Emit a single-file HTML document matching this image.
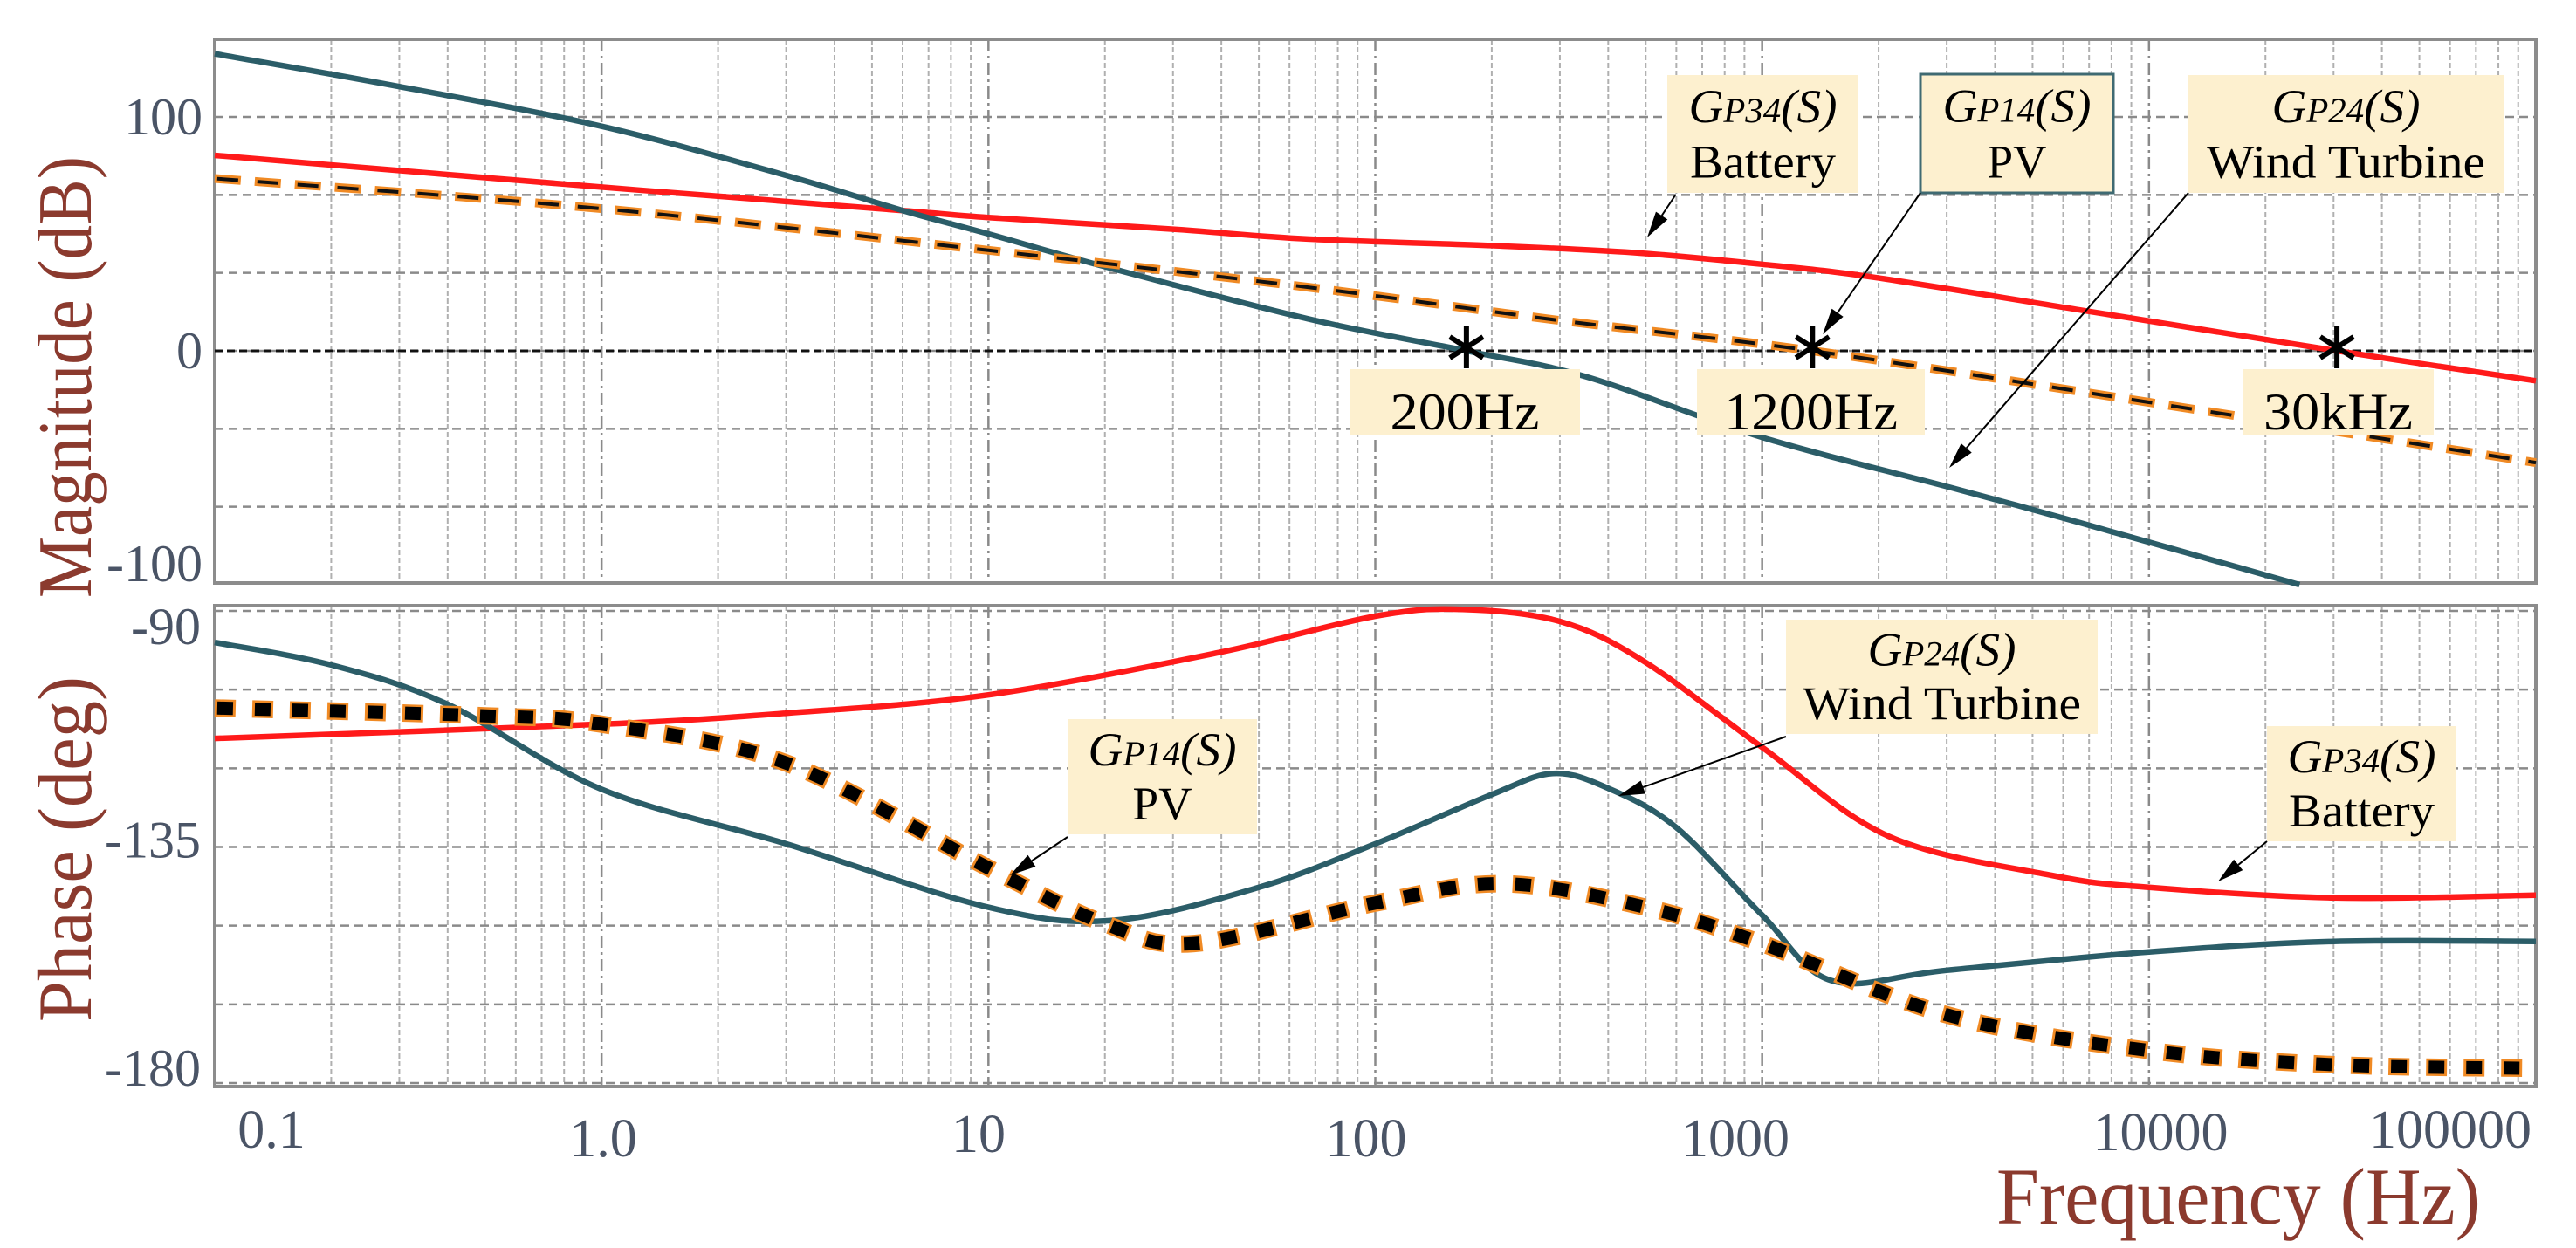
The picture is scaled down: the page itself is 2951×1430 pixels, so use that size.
<!DOCTYPE html>
<html><head><meta charset="utf-8"><style>
html,body{margin:0;padding:0;background:#fff;}
svg{display:block;}
text{font-family:"Liberation Serif",serif;}
</style></head><body>
<svg id="chart" xmlns="http://www.w3.org/2000/svg" width="2951" height="1430" viewBox="0 0 2951 1430">
<g id="grid"></g>
<g id="series"></g>
<g id="annot"></g>
<g id="labels"></g>
</svg>
<script>
// ---- data ----
const xTickValues = [0.1, 1, 10, 100, 1000, 10000, 100000];
const xTickLabels = ["0.1", "1.0", "10", "100", "1000", "10000", "100000"];
const magTickValues = [100, 0, -100];
const phaseTickValues = [-90, -135, -180];

const windMagFreq = [0.1, 0.3, 1, 3, 6, 10, 20, 67, 172, 350, 1000, 3162, 6800, 24500];
const windMagDb   = [127, 113, 96, 75, 60, 50, 36, 13.7, 0, -11, -37, -59, -74, -100];
const batMagFreq  = [0.1, 1, 6, 10, 30, 67, 200, 463, 1000, 1950, 6800, 30600, 100000];
const batMagDb    = [83.6, 70, 60, 57, 52, 47.8, 45, 42, 37, 31.4, 17.2, 0, -12.8];
const pvMagFreq   = [0.1, 1, 10, 67, 300, 1349, 10000, 100000];
const pvMagDb     = [73.7, 60.8, 43, 27.2, 13, 0, -22, -47.8];

const batPhFreq = [0.1, 1, 3, 10, 39, 100, 168, 300, 492, 1000, 2130, 5600, 10000, 30000, 100000];
const batPhDeg  = [-114.3, -111.6, -109.5, -106, -98, -91, -89.7, -92, -99.5, -116, -133, -140.4, -142.7, -144.7, -144.2];
const windPhFreq = [0.1, 0.2, 0.4, 1, 3, 10, 21, 50, 100, 200, 288, 400, 600, 1000, 1515, 3000, 10000, 30000, 100000];
const windPhDeg  = [-96, -100.3, -107.8, -124, -134.4, -146.5, -149, -142.7, -134.4, -125, -121, -123.8, -131.3, -148, -160.5, -158.5, -155, -153, -153];
const pvPhFreq = [0.1, 0.5, 1, 3, 10, 20, 34, 100, 214, 500, 1000, 3000, 10000, 30000, 100000];
const pvPhDeg  = [-108.5, -110, -111.6, -119, -139, -149.6, -153.4, -145.7, -142, -146.5, -153.4, -167, -173.8, -176.5, -177.2];

const crossFreq = [172, 1349, 30600];
const crossLabels = ["200Hz", "1200Hz", "30kHz"];

// ---- axes ----
const X0 = 246, X1 = 2905, DEC = (X1 - X0) / 6;
function xs(f){ return X0 + DEC * Math.log10(f / 0.1); }
const MT = 45, MB = 668;
function ym(db){ return 402 - db * 2.68; }
const PT = 694, PB = 1245;
function yp(d){ return 700 + (-90 - d) * 6.011; }

const NS = "http://www.w3.org/2000/svg";
function mk(tag, attrs, parent){
  const e = document.createElementNS(NS, tag);
  for (const k in attrs) e.setAttribute(k, attrs[k]);
  parent.appendChild(e);
  return e;
}
const grid = document.getElementById('grid');
const series = document.getElementById('series');
const annot = document.getElementById('annot');
const labels = document.getElementById('labels');

function drawPanel(top, bottom, hLines, name){
  for (let d = 0; d < 6; d++){
    for (let m = 1; m <= 9; m++){
      const x = X0 + DEC * (d + Math.log10(m));
      if (m === 1 && d === 0) continue;
      const l = mk('line', {x1:x, x2:x, y1:top, y2:bottom, stroke: m===1 ? '#8a8a8a' : '#b0b0b0', 'stroke-width': m===1 ? 2.5 : 2, 'stroke-dasharray': m===1 ? '14 5 3 5' : '6 3'}, grid);
      
      
    }
  }
  hLines.forEach(y => {
    const l = mk('line', {x1:X0, x2:X1, y1:y, y2:y, stroke:'#8a8a8a', 'stroke-width':2.5, 'stroke-dasharray':'10 6'}, grid);
    
    
  });
  const r = mk('rect', {x:X0, y:top, width:X1-X0, height:bottom-top, fill:'none', stroke:'#8c8c8c', 'stroke-width':4}, grid);
  
  
}
const magH = [];
for (let v = 100; v > -100; v -= 100/3) magH.push(ym(v));
drawPanel(MT, MB, magH, 'magnitude-panel');
const phH = [];
for (let v = -90; v >= -180; v -= 15) phH.push(yp(v));
drawPanel(PT, PB, phH, 'phase-panel');
const zl = mk('line', {x1:X0, x2:X1, y1:ym(0), y2:ym(0), stroke:'#111', 'stroke-width':3, 'stroke-dasharray':'9 5'}, grid);



function pathFrom(fr, vals, yf){
  const p = fr.map((f,i)=>[xs(f), yf(vals[i])]);
  let d = 'M' + p[0][0].toFixed(1) + ' ' + p[0][1].toFixed(1);
  for (let i = 0; i < p.length - 1; i++){
    const p0 = p[Math.max(0,i-1)], p1 = p[i], p2 = p[i+1], p3 = p[Math.min(p.length-1,i+2)];
    const c1 = [p1[0] + (p2[0]-p0[0])/6, p1[1] + (p2[1]-p0[1])/6];
    const c2 = [p2[0] - (p3[0]-p1[0])/6, p2[1] - (p3[1]-p1[1])/6];
    d += ' C' + c1[0].toFixed(1) + ' ' + c1[1].toFixed(1) + ' ' + c2[0].toFixed(1) + ' ' + c2[1].toFixed(1) + ' ' + p2[0].toFixed(1) + ' ' + p2[1].toFixed(1);
  }
  return d;
}
let e;
// magnitude
e = mk('path', {d:pathFrom(batMagFreq, batMagDb, ym), fill:'none', stroke:'#ff1a1a', 'stroke-width':6.5}, series);


e = mk('path', {d:pathFrom(windMagFreq, windMagDb, ym), fill:'none', stroke:'#2b5d68', 'stroke-width':6.5}, series);


e = mk('path', {d:pathFrom(pvMagFreq, pvMagDb, ym), fill:'none', stroke:'#f08a24', 'stroke-width':10, 'stroke-dasharray':'30 16'}, series);


e = mk('path', {d:pathFrom(pvMagFreq, pvMagDb, ym), fill:'none', stroke:'#111', 'stroke-width':4, 'stroke-dasharray':'24 22', 'stroke-dashoffset':'-3'}, series);


// phase
e = mk('path', {d:pathFrom(batPhFreq, batPhDeg, yp), fill:'none', stroke:'#ff1a1a', 'stroke-width':6.5}, series);


e = mk('path', {d:pathFrom(windPhFreq, windPhDeg, yp), fill:'none', stroke:'#2b5d68', 'stroke-width':6.5}, series);


e = mk('path', {d:pathFrom(pvPhFreq, pvPhDeg, yp), fill:'none', stroke:'#f08a24', 'stroke-width':20, 'stroke-dasharray':'24 19'}, series);


e = mk('path', {d:pathFrom(pvPhFreq, pvPhDeg, yp), fill:'none', stroke:'#000', 'stroke-width':15, 'stroke-dasharray':'18 25', 'stroke-dashoffset':'-3'}, series);



// tick labels
const xLabY = [1295, 1305, 1300, 1305, 1305, 1298, 1295];
const xLabX = [311, 691, 1121, 1565, 1988, 2475, 2807];
xTickLabels.forEach((t,i)=>{
  const tx = mk('text', {x:xLabX[i], y:xLabY[i]+20, 'font-size':62, fill:'#4a5466', 'text-anchor':'middle'}, labels);
  tx.textContent = t;
  
  
});
magTickValues.forEach(v=>{
  const tx = mk('text', {x:232, y:ym(v)+20 - (v===-100?24:0), 'font-size':60, fill:'#4a5466', 'text-anchor':'end'}, labels);
  tx.textContent = String(v);
  
  
});
phaseTickValues.forEach((v,i)=>{
  const off = [18, -8, -17][i];
  const tx = mk('text', {x:230, y:yp(v)+20+off, 'font-size':60, fill:'#4a5466', 'text-anchor':'end'}, labels);
  tx.textContent = String(v);
  
  
});

// asterisks + frequency labels
const boxX = [1546, 1944, 2569], boxW = [264, 261, 219];
crossFreq.forEach((f,i)=>{
  const cx = xs(f), cy = ym(0) - 4;
  const g = mk('g', {}, annot);
  
  
  for (let a = 0; a < 3; a++){
    const ang = Math.PI/2 + a*Math.PI/3;
    mk('line', {x1:cx - 22*Math.cos(ang), y1:cy - 24*Math.sin(ang), x2:cx + 22*Math.cos(ang), y2:cy + 24*Math.sin(ang), stroke:'#000', 'stroke-width':6}, g);
  }
  const b = mk('rect', {x:boxX[i], y:423, width:boxW[i], height:76, fill:'#fdf0cf'}, annot);
  
  
  const t = mk('text', {x:boxX[i]+boxW[i]/2, y:492, 'font-size':60, fill:'#000', 'text-anchor':'middle', textLength:[171,199,171][i], lengthAdjust:'spacingAndGlyphs'}, annot);
  t.textContent = crossLabels[i];
  
  
});

// callout boxes
function callout(name, x, y, w, h, sub, line2, w2, border, ax1, ay1, ax2, ay2){
  const g = mk('g', {}, annot);
  
  
  mk('rect', {x:x, y:y, width:w, height:h, fill:'#fdf0cf', stroke: border ? '#3f6a72' : 'none', 'stroke-width':3}, g);
  const cx = x + w/2;
  const t1 = mk('text', {x:cx, y:y + h*0.40, 'font-size':54, 'font-style':'italic', fill:'#000', 'text-anchor':'middle', textLength:170, lengthAdjust:'spacingAndGlyphs'}, g);
  t1.innerHTML = 'G<tspan font-size="40">P' + sub + '</tspan>(S)';
  const t2 = mk('text', {x:cx, y:y + h*0.87, 'font-size':54, fill:'#000', 'text-anchor':'middle', textLength:w2, lengthAdjust:'spacingAndGlyphs'}, g);
  t2.textContent = line2;
  const ang = Math.atan2(ay2-ay1, ax2-ax1);
  const bx = ax2 - 30*Math.cos(ang), by = ay2 - 30*Math.sin(ang);
  mk('line', {x1:ax1, y1:ay1, x2:bx, y2:by, stroke:'#000', 'stroke-width':2}, g);
  const px = -Math.sin(ang)*8, py = Math.cos(ang)*8;
  mk('polygon', {points: ax2+','+ay2+' '+(bx+px)+','+(by+py)+' '+(bx-px)+','+(by-py), fill:'#000'}, g);
}
callout('battery-magnitude-callout', 1910, 86, 219, 135, '34', 'Battery', 167, false, 1919, 224, 1887, 272);
callout('pv-magnitude-callout', 2200, 85, 221, 136, '14', 'PV', 68, true, 2200, 221, 2088, 383);
callout('wind-magnitude-callout', 2507, 86, 361, 135, '24', 'Wind Turbine', 319, false, 2507, 221, 2233, 536);
callout('wind-phase-callout', 2046, 710, 357, 131, '24', 'Wind Turbine', 319, false, 2046, 844, 1854, 912);
callout('pv-phase-callout', 1223, 824, 217, 132, '14', 'PV', 68, false, 1223, 959, 1157, 1003);
callout('battery-phase-callout', 2597, 832, 217, 132, '34', 'Battery', 167, false, 2597, 964, 2541, 1010);

// axis titles
let t = mk('text', {x:0, y:0, 'font-size':88, fill:'#8b3a2e', 'text-anchor':'middle', textLength:506, lengthAdjust:'spacingAndGlyphs', transform:'translate(104,432) rotate(-90)'}, labels);
t.textContent = 'Magnitude (dB)';


t = mk('text', {x:0, y:0, 'font-size':88, fill:'#8b3a2e', 'text-anchor':'middle', textLength:396, lengthAdjust:'spacingAndGlyphs', transform:'translate(104,973) rotate(-90)'}, labels);
t.textContent = 'Phase (deg)';


t = mk('text', {x:2287, y:1402, 'font-size':92, fill:'#8b3a2e', textLength:555, lengthAdjust:'spacingAndGlyphs'}, labels);
t.textContent = 'Frequency  (Hz)';


</script>
</body></html>
